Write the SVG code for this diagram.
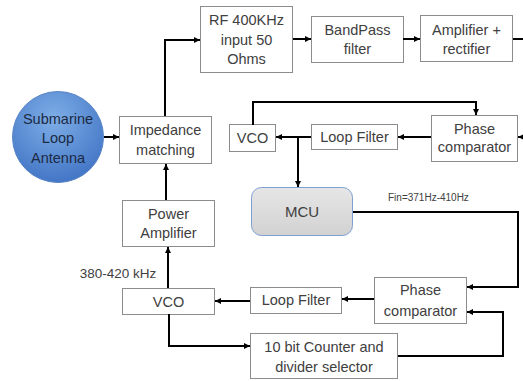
<svg xmlns="http://www.w3.org/2000/svg" width="523" height="381" viewBox="0 0 523 381">
<style>
.box{fill:#fff;stroke:#8c8c8c;stroke-width:1}
.t{font-family:"Liberation Sans",Arial,sans-serif;font-size:14.5px;fill:#404040;text-anchor:middle}
.c{fill:none;stroke:#000;stroke-width:2}
</style>
<defs>
<marker id="ah" markerUnits="userSpaceOnUse" markerWidth="7" markerHeight="7" refX="6" refY="3.5" orient="auto">
<path d="M0,0.5 L6,3.5 L0,6.5 Z" fill="#000"/>
</marker>
<radialGradient id="ant" cx="0.45" cy="0.3" r="0.75">
<stop offset="0" stop-color="#7eaee6"/>
<stop offset="1" stop-color="#3f72c4"/>
</radialGradient>
<linearGradient id="mcu" x1="0" y1="0" x2="0" y2="1">
<stop offset="0" stop-color="#e6e6e6"/>
<stop offset="1" stop-color="#d2d2d2"/>
</linearGradient>
</defs>
<g id="antenna">
<circle cx="58" cy="137" r="45.5" fill="url(#ant)" stroke="#5a86c8" stroke-width="1"/>
<text class="t" x="58" y="123.5" style="fill:#1c2a44">Submarine</text>
<text class="t" x="58" y="143" style="fill:#1c2a44">Loop</text>
<text class="t" x="58" y="163" style="fill:#1c2a44">Antenna</text>
</g>
<g id="impedance">
<rect class="box" x="119.5" y="116.5" width="92" height="47"/>
<text class="t" x="165.5" y="135">Impedance</text>
<text class="t" x="165.5" y="155">matching</text>
</g>
<g id="rf">
<rect class="box" x="200.5" y="6.5" width="92" height="66"/>
<text class="t" x="246.5" y="24.5">RF 400KHz</text>
<text class="t" x="246.5" y="44.5">input 50</text>
<text class="t" x="246.5" y="64">Ohms</text>
</g>
<g id="bandpass">
<rect class="box" x="311.5" y="16.5" width="92" height="46"/>
<text class="t" x="357.5" y="35">BandPass</text>
<text class="t" x="357.5" y="54">filter</text>
</g>
<g id="amprect">
<rect class="box" x="420.5" y="15.5" width="92" height="46"/>
<text class="t" x="466.5" y="34.5">Amplifier +</text>
<text class="t" x="466.5" y="53.5">rectifier</text>
</g>
<g id="vco1">
<rect class="box" x="229.5" y="124.5" width="46" height="27"/>
<text class="t" x="252.5" y="143">VCO</text>
</g>
<g id="loopfilter1">
<rect class="box" x="311.5" y="124.5" width="86" height="25"/>
<text class="t" x="354.5" y="142">Loop Filter</text>
</g>
<g id="phase1">
<rect class="box" x="431.5" y="115.5" width="86" height="46"/>
<text class="t" x="474.5" y="133.5">Phase</text>
<text class="t" x="474.5" y="152">comparator</text>
</g>
<g id="mcu-node">
<rect x="251.5" y="187.5" width="101" height="48" rx="10" fill="url(#mcu)" stroke="#7d9fd2" stroke-width="1"/>
<text class="t" x="302" y="216.5" style="font-size:15px">MCU</text>
</g>
<g id="poweramp">
<rect class="box" x="122.5" y="200.5" width="92" height="46"/>
<text class="t" x="168.5" y="218.5">Power</text>
<text class="t" x="168.5" y="237.5">Amplifier</text>
</g>
<g id="vco2">
<rect class="box" x="122.5" y="288.5" width="92" height="26"/>
<text class="t" x="168.5" y="306.5">VCO</text>
</g>
<g id="loopfilter2">
<rect class="box" x="250.5" y="287.5" width="91" height="26"/>
<text class="t" x="296" y="305">Loop Filter</text>
</g>
<g id="phase2">
<rect class="box" x="374.5" y="277.5" width="92" height="46"/>
<text class="t" x="420.5" y="295">Phase</text>
<text class="t" x="420.5" y="315.5">comparator</text>
</g>
<g id="counter">
<rect class="box" x="250.5" y="333.5" width="147" height="45"/>
<text class="t" x="324" y="351.5">10 bit Counter and</text>
<text class="t" x="324" y="371.5">divider selector</text>
</g>
<g id="labels">
<text x="388" y="201" style="font-family:'Liberation Sans',Arial,sans-serif;font-size:10px;fill:#404040">Fin=371Hz-410Hz</text>
<text x="118" y="278" style="font-family:'Liberation Sans',Arial,sans-serif;font-size:13.5px;fill:#404040;text-anchor:middle">380-420 kHz</text>
</g>
<g id="connectors">
<path class="c" d="M104,137 H119" marker-end="url(#ah)"/>
<path class="c" d="M165,116 V40 H200" marker-end="url(#ah)"/>
<path class="c" d="M293,39 H311" marker-end="url(#ah)"/>
<path class="c" d="M403,39 H420" marker-end="url(#ah)"/>
<path class="c" d="M513,39 H523"/>
<path class="c" d="M253,125 V102 H476 V115" marker-end="url(#ah)"/>
<path class="c" d="M523,137 H518" marker-end="url(#ah)"/>
<path class="c" d="M431,137 H398" marker-end="url(#ah)"/>
<path class="c" d="M311,137 H276" marker-end="url(#ah)"/>
<path class="c" d="M298,137 V187" marker-end="url(#ah)"/>
<path class="c" d="M353,212 H518 V287 H467" marker-end="url(#ah)"/>
<path class="c" d="M374,299 H342" marker-end="url(#ah)"/>
<path class="c" d="M250,301 H215" marker-end="url(#ah)"/>
<path class="c" d="M398,356 H503 V312 H467" marker-end="url(#ah)"/>
<path class="c" d="M168,288 V247" marker-end="url(#ah)"/>
<path class="c" d="M166,200 V164" marker-end="url(#ah)"/>
<path class="c" d="M169,314 V346 H250" marker-end="url(#ah)"/>
</g>
</svg>
